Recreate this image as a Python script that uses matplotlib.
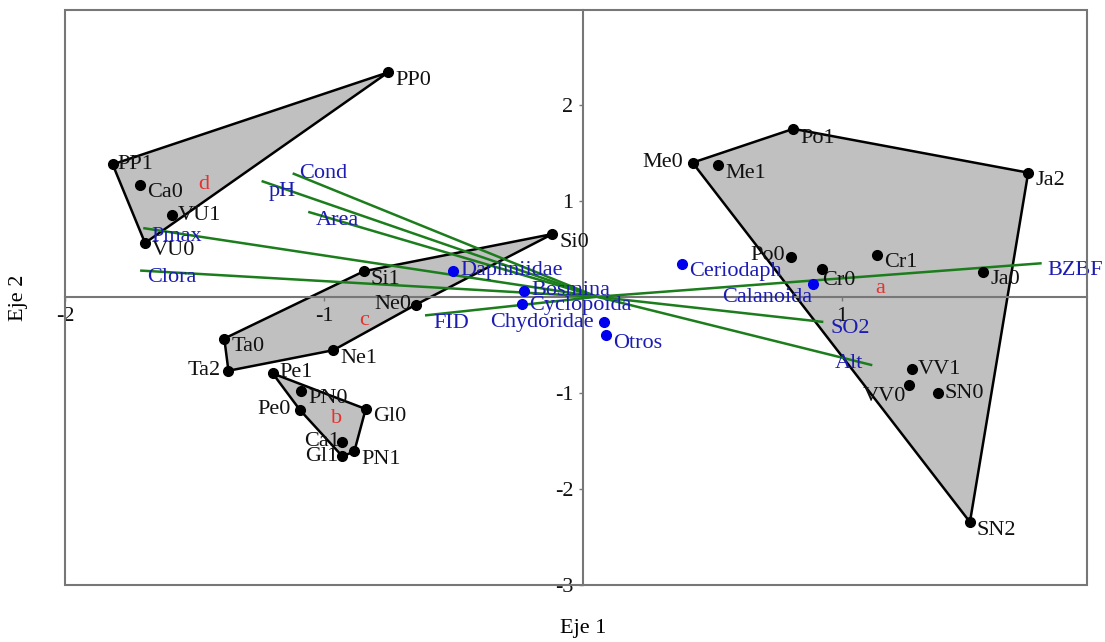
import matplotlib
matplotlib.use('Agg')
import matplotlib.pyplot as plt
from matplotlib.patches import Polygon, Rectangle

plt.rcParams['font.family'] = ['Liberation Serif', 'DejaVu Serif']

# ---------------- data ----------------
site_names = ['PP0', 'PP1', 'Ca0', 'VU1', 'VU0', 'Si1', 'Si0', 'Ne0', 'Ne1', 'Ta0',
              'Ta2', 'Pe1', 'PN0', 'Pe0', 'Gl0', 'Ca1', 'Gl1', 'PN1',
              'Me0', 'Me1', 'Po1', 'Ja2', 'Po0', 'Cr1', 'Cr0', 'Ja0',
              'VV1', 'VV0', 'SN0', 'SN2']
site_x = [-0.753, -1.816, -1.710, -1.588, -1.691, -0.846, -0.118, -0.646, -0.964, -1.385,
          -1.369, -1.198, -1.089, -1.093, -0.839, -0.932, -0.929, -0.883,
          0.423, 0.523, 0.812, 1.719, 0.803, 1.134, 0.924, 1.546,
          1.269, 1.257, 1.372, 1.494]
site_y = [2.335, 1.378, 1.164, 0.853, 0.560, 0.266, 0.653, -0.083, -0.556, -0.435,
          -0.770, -0.798, -0.977, -1.178, -1.168, -1.513, -1.661, -1.610,
          1.396, 1.368, 1.748, 1.292, 0.418, 0.435, 0.290, 0.262,
          -0.756, -0.919, -0.998, -2.345]

species_names = ['Daphniidae', 'Bosmina', 'Cyclopoida', 'Chydoridae', 'Otros',
                 'Ceriodaph', 'Calanoida']
species_x = [-0.501, -0.227, -0.234, 0.082, 0.089, 0.381, 0.889]
species_y = [0.273, 0.065, -0.080, -0.262, -0.401, 0.342, 0.128]

env_names = ['Cond', 'pH', 'Area', 'Pmax', 'Clora', 'FID', 'BZBF', 'SO2', 'Alt']
env_x = [-1.121, -1.241, -1.061, -1.698, -1.710, -0.610, 1.771, 0.928, 1.117]
env_y = [1.285, 1.205, 0.884, 0.715, 0.273, -0.194, 0.349, -0.262, -0.712]
env_origin = (0.054, 0.0)

hulls = {
    'a': ['Me0', 'Po1', 'Ja2', 'SN2'],
    'b': ['Pe1', 'Gl0', 'PN1', 'Gl1', 'Pe0'],
    'c': ['Si0', 'Si1', 'Ta0', 'Ta2', 'Ne1', 'Ne0'],
    'd': ['PP1', 'PP0', 'VU0'],
}
group_letters = ['a', 'b', 'c', 'd']
letter_x = [1.149, -0.951, -0.844, -1.466]
letter_y = [0.083, -1.264, -0.245, 1.171]

x_ticks = [-2, -1, 1]
y_ticks = [-3, -2, -1, 1, 2]
x_label = 'Eje 1'
y_label = 'Eje 2'

# ---------------- layout (label offsets in pixels: dx, dy, ha) ----------------
RB = (7, -8, 'left')
R = (7, 0, 'left')
L = (-8, 0, 'right')
site_lab = {n: RB for n in site_names}
site_lab.update({'PP1': (5, 0, 'left'), 'VU1': (6, -1, 'left'), 'Ne0': (-4, 0, 'right'),
                 'Ta2': L, 'Pe1': (7, 1, 'left'), 'Pe0': (-9, 0, 'right'),
                 'Ca1': (-2, 1, 'right'), 'Gl1': (-4, 0, 'right'), 'Me0': (-9, 0, 'right'),
                 'Po0': (-6, 1, 'right'), 'Cr0': (0, -12, 'left'), 'VV1': (6, 0, 'left'),
                 'VV0': (-2, -11, 'right'), 'SN0': (6, -1, 'left'), 'Po1': (7, -10, 'left')})
species_lab = {'Daphniidae': R, 'Bosmina': R, 'Cyclopoida': (7, -1, 'left'),
               'Chydoridae': (-10, -1, 'right'), 'Otros': RB, 'Ceriodaph': RB,
               'Calanoida': (-1, -13, 'right')}
env_lab = {'Cond': (6, 0, 'left'), 'pH': (7, -10, 'left'), 'Area': (8, -9, 'left'),
           'Pmax': (8, -8, 'left'), 'Clora': (7, -7, 'left'), 'FID': (8, -8, 'left'),
           'BZBF': (6, -7, 'left'), 'SO2': (7, -7, 'left'), 'Alt': (-9, 2, 'right')}

FS = 16
BLUE_TXT = '#1c1cb4'
GRAY = '#777777'

fig = plt.figure(figsize=(11.05, 6.42), dpi=100)
ax = fig.add_axes([65 / 1105, 57 / 642, 1022 / 1105, 575 / 642])
ax.set_xlim(-2.0, 1.946)
ax.set_ylim(-3.0, 2.985)

pos = {n: (x, y) for n, x, y in zip(site_names, site_x, site_y)}

# hulls
for g in group_letters:
    pts = [pos[n] for n in hulls[g]]
    ax.add_patch(Polygon(pts, closed=True, facecolor='#c0c0c0', edgecolor='black',
                         linewidth=1.8, zorder=1))
for g, x, y in zip(group_letters, letter_x, letter_y):
    ax.text(x, y, g, color='#e8302c', fontsize=FS, ha='center', va='center', zorder=3)

# environmental vectors
for n, x, y in zip(env_names, env_x, env_y):
    ax.plot([env_origin[0], x], [env_origin[1], y], color='#1b7d1b', linewidth=1.8,
            zorder=2.6, solid_capstyle='butt')
    dx, dy, ha = env_lab[n]
    ax.annotate(n, (x, y), xytext=(dx, dy), textcoords='offset pixels', ha=ha,
                va='center', color=BLUE_TXT, fontsize=FS, zorder=3)

# species
ax.plot(species_x, species_y, 'o', color='#0000ee', markersize=7, zorder=4)
for n, x, y in zip(species_names, species_x, species_y):
    dx, dy, ha = species_lab[n]
    ax.annotate(n, (x, y), xytext=(dx, dy), textcoords='offset pixels', ha=ha,
                va='center', color=BLUE_TXT, fontsize=FS, zorder=3)

# sites
ax.plot(site_x, site_y, 'o', color='black', markersize=7, zorder=4)
for n, x, y in zip(site_names, site_x, site_y):
    dx, dy, ha = site_lab[n]
    ax.annotate(n, (x, y), xytext=(dx, dy), textcoords='offset pixels', ha=ha,
                va='center', color='#111111', fontsize=FS, zorder=3)

# axes styling
ax.spines['left'].set_position(('data', 0))
ax.spines['bottom'].set_position(('data', 0))
for s in ['left', 'bottom']:
    ax.spines[s].set_color(GRAY)
    ax.spines[s].set_linewidth(1.5)
    ax.spines[s].set_zorder(2.5)
for s in ['right', 'top']:
    ax.spines[s].set_visible(False)
ax.add_patch(Rectangle((0, 0), 1, 1, transform=ax.transAxes, fill=False,
                       edgecolor=GRAY, linewidth=1.5, clip_on=False, zorder=5))
ax.set_xticks(x_ticks)
ax.set_yticks(y_ticks)
ax.set_xticklabels([str(t) for t in x_ticks])
ax.set_yticklabels([str(t) for t in y_ticks])
ax.tick_params(direction='out', length=3, width=1, color=GRAY, labelsize=FS,
               labelcolor='#111111')
ax.tick_params(axis='x', pad=4)
ax.tick_params(axis='y', pad=4)

fig.text(583 / 1105, 1 - 628 / 642, x_label, ha='center', va='center', fontsize=FS)
fig.text(18 / 1105, 1 - 298 / 642, y_label, ha='center', va='center', fontsize=FS,
         rotation=90)

fig.savefig('out.png', dpi=100)
